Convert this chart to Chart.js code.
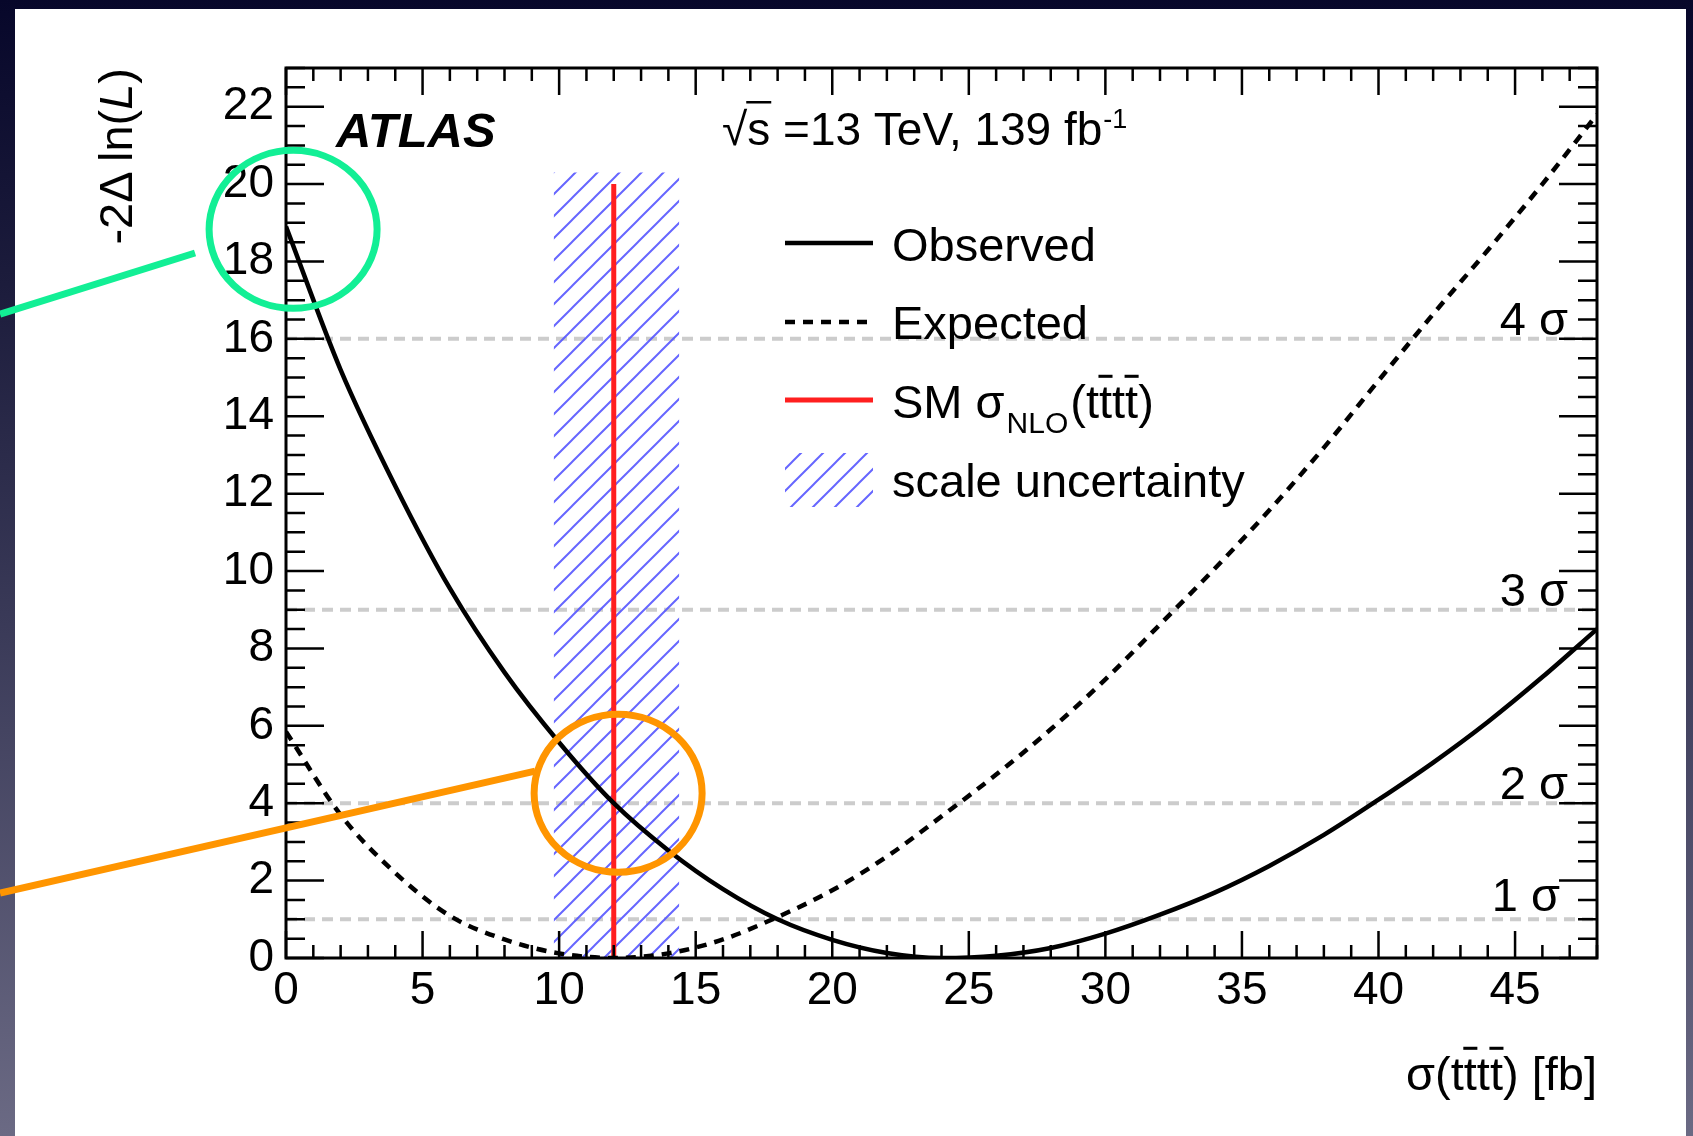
<!DOCTYPE html>
<html>
<head>
<meta charset="utf-8">
<script src="https://cdn.jsdelivr.net/npm/chart.js@4.4.0/dist/chart.umd.min.js"></script>
<style>
  html, body { margin: 0; padding: 0; }
  body {
    width: 1693px; height: 1136px; overflow: hidden;
    background: linear-gradient(to bottom, #07072a 0%, #1c1c3c 25%, #3a3a58 55%, #6b6a84 100%);
  }
  canvas { display: block; }
</style>
</head>
<body>
<canvas id="nll" width="1693" height="1136"></canvas>
<script>
// valeurs
const sigmaGrid = [0, 2, 4, 6, 8, 10, 12, 14, 16, 18, 20, 22, 24, 26, 28, 30, 32, 34, 36, 38, 40, 42, 44, 46, 48];
const observed = [18.9, 15.2, 12.2, 9.55, 7.38, 5.57, 4.0, 2.78, 1.78, 1.0, 0.47, 0.13, 0.0, 0.06, 0.26, 0.63, 1.12, 1.69, 2.38, 3.18, 4.09, 5.05, 6.1, 7.26, 8.5];
const expected = [5.85, 3.7, 2.2, 1.09, 0.48, 0.12, 0.0, 0.12, 0.48, 1.06, 1.75, 2.62, 3.66, 4.74, 5.91, 7.2, 8.62, 10.06, 11.57, 13.19, 14.92, 16.64, 18.29, 20.0, 21.8];

const smValue = 12.0;
const smTop = 20.0;
const scaleBand = [9.8, 14.4];
const scaleBandTop = 20.3;

const sigmaLevels = [1, 4, 9, 16];
const sigmaLabels = ["1 σ", "2 σ", "3 σ", "4 σ"];

const xTicks = [0, 5, 10, 15, 20, 25, 30, 35, 40, 45];
const yTicks = [0, 2, 4, 6, 8, 10, 12, 14, 16, 18, 20, 22];
const xRange = [0, 48];
const yRange = [0, 23];

const FONT = "'Liberation Sans', Arial, Helvetica, sans-serif";
const font = (size, style) => (style ? style + " " : "") + size + "px " + FONT;

// motif hachuré (bleu)
function makeHatch() {
    const p = 22;
    const c = document.createElement("canvas");
    c.width = p; c.height = p;
    const g = c.getContext("2d");
    g.strokeStyle = "rgba(85, 85, 255, 0.9)";
    g.lineWidth = 2;
    g.beginPath();
    g.moveTo(0, p); g.lineTo(p, 0);
    g.moveTo(-p / 2, p / 2); g.lineTo(p / 2, -p / 2);
    g.moveTo(p / 2, p + p / 2); g.lineTo(p + p / 2, p / 2);
    g.stroke();
    return g.createPattern(c, "repeat");
}
const hatch = makeHatch();

const pts = (xs, ys) => xs.map((x, i) => ({ x: x, y: ys[i] }));

// "tttt" avec barre sur le 2e et 4e t
function drawTTTT(ctx, x, y, size) {
    ctx.font = font(size);
    const tw = ctx.measureText("t").width;
    let cx = x;
    for (let i = 0; i < 4; i++) {
        ctx.fillText("t", cx, y);
        if (i % 2 === 1) {
            ctx.fillRect(cx - 0.5, y - size * 0.92, tw + 1, Math.max(2.5, size * 0.065));
        }
        cx += tw;
    }
    return cx - x;
}

const backgroundPanel = {
    id: "backgroundPanel",
    beforeDraw(chart) {
        const ctx = chart.ctx;
        ctx.save();
        ctx.fillStyle = "#ffffff";
        ctx.fillRect(15, 9, 1671, 1127);
        ctx.restore();
    },
};

// cadre + graduations vers l'intérieur (style ROOT)
const rootFrame = {
    id: "rootFrame",
    afterDatasetsDraw(chart) {
        const { ctx, chartArea: a, scales } = chart;
        const x = scales.x, y = scales.y;
        ctx.save();
        ctx.strokeStyle = "#000";
        ctx.lineWidth = 2.5;
        ctx.beginPath();
        for (let v = xRange[0]; v <= xRange[1]; v += 1) {
            const px = x.getPixelForValue(v);
            const len = v % 5 === 0 ? 27 : 13;
            ctx.moveTo(px, a.bottom); ctx.lineTo(px, a.bottom - len);
            ctx.moveTo(px, a.top); ctx.lineTo(px, a.top + len);
        }
        for (let v = yRange[0]; v <= yRange[1]; v += 0.5) {
            const py = y.getPixelForValue(v);
            const len = v % 2 === 0 ? 38 : 19;
            ctx.moveTo(a.left, py); ctx.lineTo(a.left + len, py);
            ctx.moveTo(a.right, py); ctx.lineTo(a.right - len, py);
        }
        ctx.stroke();
        ctx.lineWidth = 3;
        ctx.strokeRect(a.left, a.top, a.right - a.left, a.bottom - a.top);
        ctx.restore();
    },
};

const texts = {
    id: "texts",
    afterDraw(chart) {
        const { ctx, chartArea: a, scales } = chart;
        const y = scales.y;
        ctx.save();
        ctx.fillStyle = "#000";
        ctx.textBaseline = "alphabetic";

        // ATLAS
        ctx.font = font(49, "italic bold");
        ctx.fillText("ATLAS", 336, 147);

        // energie / lumi
        ctx.font = font(46);
        const sq = "√";
        ctx.fillText(sq, 722, 145);
        const sqw = ctx.measureText(sq).width;
        const sw = ctx.measureText("s").width;
        ctx.fillRect(722 + sqw - 1, 145 - 44, sw + 2, 2.5);
        const head = "s =13 TeV, 139 fb";
        ctx.fillText(head, 722 + sqw, 145);
        const hw = sqw + ctx.measureText(head).width;
        ctx.font = font(27);
        ctx.fillText("-1", 722 + hw + 1, 128);

        // legende
        const lx0 = 785, lx1 = 873, tx = 892;
        ctx.lineWidth = 4.5;
        ctx.strokeStyle = "#000";
        ctx.beginPath(); ctx.moveTo(lx0, 243); ctx.lineTo(lx1, 243); ctx.stroke();
        ctx.setLineDash([10, 8]);
        ctx.beginPath(); ctx.moveTo(lx0, 322); ctx.lineTo(lx1, 322); ctx.stroke();
        ctx.setLineDash([]);
        ctx.strokeStyle = "#ff1f1f";
        ctx.lineWidth = 5;
        ctx.beginPath(); ctx.moveTo(lx0, 400); ctx.lineTo(lx1, 400); ctx.stroke();
        ctx.fillStyle = hatch;
        ctx.fillRect(lx0, 453, lx1 - lx0, 54);
        ctx.fillStyle = "#000";

        ctx.font = font(47);
        ctx.fillText("Observed", tx, 261);
        ctx.fillText("Expected", tx, 339);
        ctx.fillText("scale uncertainty", tx, 497);
        let cx = tx;
        ctx.fillText("SM σ", cx, 418);
        cx += ctx.measureText("SM σ").width + 2;
        ctx.font = font(30);
        ctx.fillText("NLO", cx, 433);
        cx += ctx.measureText("NLO").width + 2;
        ctx.font = font(47);
        ctx.fillText("(", cx, 418);
        cx += ctx.measureText("(").width;
        cx += drawTTTT(ctx, cx, 418, 47);
        ctx.font = font(47);
        ctx.fillText(")", cx, 418);

        // niveaux en sigma
        ctx.font = font(47);
        ctx.textAlign = "right";
        sigmaLevels.forEach((lvl, i) => {
            const py = y.getPixelForValue(lvl);
            const right = i === 0 ? 1560 : 1568;
            ctx.fillText(sigmaLabels[i], right, py - (i === 0 ? 8 : 4));
        });

        // titre axe x
        ctx.textAlign = "left";
        ctx.font = font(47);
        const s1 = "σ(", s2 = ") [fb]";
        const tW = ctx.measureText("t").width * 4;
        const total = ctx.measureText(s1).width + tW + ctx.measureText(s2).width;
        let xx = a.right - total;
        ctx.fillText(s1, xx, 1090);
        xx += ctx.measureText(s1).width;
        xx += drawTTTT(ctx, xx, 1090, 47);
        ctx.font = font(47);
        ctx.fillText(s2, xx, 1090);

        // titre axe y
        ctx.translate(132, a.top);
        ctx.rotate(-Math.PI / 2);
        ctx.font = font(47);
        const p1 = "-2Δ\u2009ln(", p3 = ")";
        const w1 = ctx.measureText(p1).width, w3 = ctx.measureText(p3).width;
        ctx.font = font(47, "italic");
        const w2 = ctx.measureText("L").width;
        let yy = -(w1 + w2 + w3);
        ctx.font = font(47);
        ctx.fillText(p1, yy, 0);
        ctx.font = font(47, "italic");
        ctx.fillText("L", yy + w1, 0);
        ctx.font = font(47);
        ctx.fillText(p3, yy + w1 + w2, 0);
        ctx.restore();
    },
};

// annotations de la diapo (cercles + traits), en coordonnées de données
const callouts = [
    { color: "#12ef95", cx: 0.26, cy: 18.83, rx: 84, ry: 79, from: [-10.47, 16.64], to: [-3.33, 18.22] },
    { color: "#ff9500", cx: 12.16, cy: 4.26, rx: 84, ry: 79, from: [-10.47, 1.68], to: [9.12, 4.83] },
];
const calloutPlugin = {
    id: "callouts",
    afterDraw(chart) {
        const { ctx, scales } = chart;
        const X = (v) => scales.x.getPixelForValue(v);
        const Y = (v) => scales.y.getPixelForValue(v);
        ctx.save();
        ctx.lineWidth = 7;
        callouts.forEach((c) => {
            ctx.strokeStyle = c.color;
            ctx.beginPath();
            ctx.ellipse(X(c.cx), Y(c.cy), c.rx, c.ry, 0, 0, Math.PI * 2);
            ctx.stroke();
            ctx.beginPath();
            ctx.moveTo(X(c.from[0]), Y(c.from[1]));
            ctx.lineTo(X(c.to[0]), Y(c.to[1]));
            ctx.stroke();
        });
        ctx.restore();
    },
};

const sigmaSets = sigmaLevels.map((lvl) => ({
    data: [{ x: xRange[0], y: lvl }, { x: xRange[1], y: lvl }],
    borderColor: "#cccccc",
    borderWidth: 4,
    borderDash: [11, 7],
    pointRadius: 0,
    order: 5,
}));

const ctx = document.getElementById("nll").getContext("2d");
new Chart(ctx, {
    type: "line",
    data: {
        datasets: [
            {
                label: "Observed",
                data: pts(sigmaGrid, observed),
                borderColor: "#000",
                borderWidth: 4.5,
                pointRadius: 0,
                cubicInterpolationMode: "monotone",
                order: 1,
            },
            {
                label: "Expected",
                data: pts(sigmaGrid, expected),
                borderColor: "#000",
                borderWidth: 4.5,
                borderDash: [10, 8],
                pointRadius: 0,
                cubicInterpolationMode: "monotone",
                order: 2,
            },
            {
                label: "SM",
                data: [{ x: smValue, y: 0 }, { x: smValue, y: smTop }],
                borderColor: "#ff1f1f",
                borderWidth: 5,
                pointRadius: 0,
                order: 3,
            },
            {
                label: "scale uncertainty",
                data: [{ x: scaleBand[0], y: scaleBandTop }, { x: scaleBand[1], y: scaleBandTop }],
                borderWidth: 0,
                borderColor: "rgba(0,0,0,0)",
                backgroundColor: hatch,
                fill: "origin",
                pointRadius: 0,
                order: 4,
            },
            ...sigmaSets,
        ],
    },
    options: {
        responsive: false,
        animation: false,
        events: [],
        layout: { padding: { left: 0, right: 96, top: 68, bottom: 0 } },
        plugins: {
            legend: { display: false },
            tooltip: { enabled: false },
            title: { display: false },
        },
        scales: {
            x: {
                type: "linear",
                min: xRange[0],
                max: xRange[1],
                grid: { display: false, drawTicks: false },
                border: { display: false },
                ticks: { color: "#000", font: { family: FONT, size: 46 }, padding: 6, maxRotation: 0, autoSkip: false },
                afterBuildTicks: (s) => { s.ticks = xTicks.map((v) => ({ value: v })); },
                afterFit: (s) => { s.height = 178; },
            },
            y: {
                min: yRange[0],
                max: yRange[1],
                grid: { display: false, drawTicks: false },
                border: { display: false },
                ticks: { color: "#000", font: { family: FONT, size: 46 }, padding: 12, autoSkip: false },
                afterBuildTicks: (s) => { s.ticks = yTicks.map((v) => ({ value: v })); },
                afterFit: (s) => { s.width = 286; },
            },
        },
    },
    plugins: [backgroundPanel, rootFrame, texts, calloutPlugin],
});
</script>
</body>
</html>
